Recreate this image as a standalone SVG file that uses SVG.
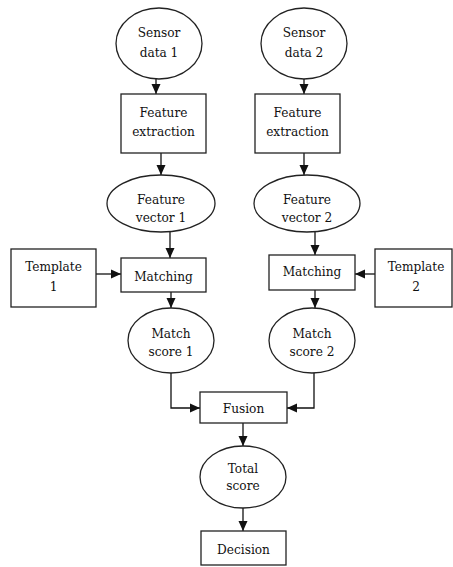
<svg xmlns="http://www.w3.org/2000/svg" width="453" height="567" viewBox="0 0 453 567">
<style>
.s{fill:#fff;stroke:#222;stroke-width:1.3}
.t{font-size:13.5px;fill:#111;text-anchor:middle}
.c{fill:none;stroke:#111;stroke-width:1.3}
</style>
<defs>
<marker id="a" markerUnits="userSpaceOnUse" markerWidth="10" markerHeight="10" viewBox="0 0 10 10" refX="10" refY="5" orient="auto">
<path d="M0,0.5 L10,5 L0,9.5 Z" fill="#111"/>
</marker>
</defs>
<rect width="453" height="567" fill="#fff"/>
<g id="connectors">
<line class="c" x1="156" y1="79" x2="156" y2="94" marker-end="url(#a)"/>
<line class="c" x1="304" y1="79" x2="304" y2="94" marker-end="url(#a)"/>
<line class="c" x1="161" y1="153" x2="161" y2="175" marker-end="url(#a)"/>
<line class="c" x1="304" y1="153" x2="304" y2="175" marker-end="url(#a)"/>
<line class="c" x1="170" y1="232" x2="170" y2="258" marker-end="url(#a)"/>
<line class="c" x1="315" y1="232" x2="315" y2="255" marker-end="url(#a)"/>
<line class="c" x1="96" y1="274" x2="121" y2="274" marker-end="url(#a)"/>
<line class="c" x1="375" y1="274" x2="355" y2="274" marker-end="url(#a)"/>
<line class="c" x1="171" y1="292" x2="171" y2="308" marker-end="url(#a)"/>
<line class="c" x1="315" y1="290" x2="315" y2="308" marker-end="url(#a)"/>
<polyline class="c" points="171,373 171,408 200,408" marker-end="url(#a)"/>
<polyline class="c" points="314,373 314,408 287,408" marker-end="url(#a)"/>
<line class="c" x1="243" y1="423" x2="243" y2="446" marker-end="url(#a)"/>
<line class="c" x1="243" y1="508" x2="243" y2="531" marker-end="url(#a)"/>
</g>
<g font-family="'DejaVu Serif Condensed', 'DejaVu Serif', serif" font-stretch="condensed">
<g id="sensor1"><ellipse class="s" cx="159" cy="43.5" rx="43" ry="35.5"/><text class="t" x="159" y="37">Sensor</text><text class="t" x="159" y="57">data 1</text></g>
<g id="sensor2"><ellipse class="s" cx="304" cy="43.5" rx="43" ry="35.5"/><text class="t" x="304" y="37">Sensor</text><text class="t" x="304" y="57">data 2</text></g>
<g id="fe1"><rect class="s" x="121" y="94" width="85" height="59"/><text class="t" x="163.5" y="117">Feature</text><text class="t" x="163.5" y="136">extraction</text></g>
<g id="fe2"><rect class="s" x="255" y="94" width="85" height="59"/><text class="t" x="297.5" y="117">Feature</text><text class="t" x="297.5" y="136">extraction</text></g>
<g id="fv1"><ellipse class="s" cx="161" cy="203.5" rx="54" ry="28.5"/><text class="t" x="161" y="204">Feature</text><text class="t" x="161" y="222">vector 1</text></g>
<g id="fv2"><ellipse class="s" cx="307" cy="203.5" rx="53" ry="28.5"/><text class="t" x="307" y="204">Feature</text><text class="t" x="307" y="222">vector 2</text></g>
<g id="tpl1"><rect class="s" x="11" y="249" width="85" height="58"/><text class="t" x="53.5" y="271">Template</text><text class="t" x="53.5" y="291">1</text></g>
<g id="match1"><rect class="s" x="121" y="258" width="85" height="34"/><text class="t" x="163.5" y="281">Matching</text></g>
<g id="match2"><rect class="s" x="269" y="255" width="86" height="35"/><text class="t" x="312" y="276">Matching</text></g>
<g id="tpl2"><rect class="s" x="375" y="249" width="77" height="58"/><text class="t" x="416" y="271">Template</text><text class="t" x="416" y="291">2</text></g>
<g id="score1"><ellipse class="s" cx="171" cy="340.5" rx="43" ry="32.5"/><text class="t" x="171" y="338">Match</text><text class="t" x="171" y="356">score 1</text></g>
<g id="score2"><ellipse class="s" cx="312" cy="340.5" rx="43" ry="32.5"/><text class="t" x="312" y="338">Match</text><text class="t" x="312" y="356">score 2</text></g>
<g id="fusion"><rect class="s" x="200" y="392" width="87" height="31"/><text class="t" x="243.5" y="413">Fusion</text></g>
<g id="total"><ellipse class="s" cx="243" cy="477" rx="43" ry="31"/><text class="t" x="243" y="473">Total</text><text class="t" x="243" y="490">score</text></g>
<g id="decision"><rect class="s" x="201" y="531" width="85" height="34"/><text class="t" x="243.5" y="554">Decision</text></g>
</g>
</svg>
